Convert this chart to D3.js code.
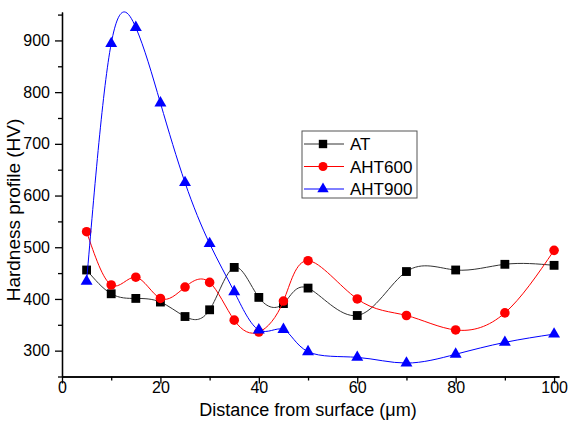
<!DOCTYPE html>
<html>
<head>
<meta charset="utf-8">
<script src="https://cdn.jsdelivr.net/npm/d3@7"></script>
<style>
  body { margin: 0; background: #fff; }
  svg { font-family: "Liberation Sans", Arial, sans-serif; }
  .axis path, .axis line { stroke: #000; stroke-width: 1.3px; }
  .axis text { font-size: 16px; fill: #000; }
</style>
</head>
<body>
<svg id="chart" width="568" height="422"></svg>
<script>
var distance = [5, 10, 15, 20, 25, 30, 35, 40, 45, 50, 60, 70, 80, 90, 100];
var atValues = [456, 410, 401, 394, 366, 379, 461, 403, 391, 421, 368, 453, 456, 467, 465];
var aht600Values = [530, 427, 442, 401, 423, 432, 359, 336, 396, 474, 400, 368, 340, 373, 494];
var aht900Values = [434, 894, 925, 779, 625, 507, 414, 340, 341, 298, 287, 276, 293, 316, 332];
var seriesNames = ["AT", "AHT600", "AHT900"];
var xTicks = [0, 20, 40, 60, 80, 100];
var yTicks = [300, 400, 500, 600, 700, 800, 900];

var svg = d3.select("#chart");

var x = d3.scaleLinear().domain([0, 101]).range([62, 559]),
    y = d3.scaleLinear().domain([250, 955]).range([376.5, 12]);

var series = [
  {name: seriesNames[0], values: atValues, color: "#000", line: "#333", symbol: d3.symbolSquare, size: 78},
  {name: seriesNames[1], values: aht600Values, color: "#f00", line: "#f00", symbol: d3.symbolCircle, size: 72},
  {name: seriesNames[2], values: aht900Values, color: "#00f", line: "#00f", symbol: d3.symbolTriangle, size: 62}
];

var line = d3.line()
    .x(function(d) { return x(d[0]); })
    .y(function(d) { return y(d[1]); })
    .curve(d3.curveNatural);

// minor ticks first
svg.append("g")
    .attr("class", "axis")
    .attr("transform", "translate(0," + y(250) + ")")
    .call(d3.axisBottom(x).tickValues(d3.range(10, 100, 20)).tickSize(4).tickSizeOuter(0).tickFormat(""));

svg.append("g")
    .attr("class", "axis axis--x")
    .attr("transform", "translate(0," + y(250) + ")")
    .call(d3.axisBottom(x).tickValues(xTicks).tickSize(7).tickSizeOuter(0).tickPadding(-1.5));

svg.append("g")
    .attr("class", "axis")
    .attr("transform", "translate(" + x(0) + ",0)")
    .call(d3.axisLeft(y).tickValues(d3.range(250, 951, 100)).tickSize(4).tickSizeOuter(0).tickFormat(""));

svg.append("g")
    .attr("class", "axis axis--y")
    .attr("transform", "translate(" + x(0) + ",0)")
    .call(d3.axisLeft(y).tickValues(yTicks).tickSize(7).tickSizeOuter(0).tickPadding(5));

svg.append("text")
    .attr("x", 308)
    .attr("y", 416)
    .attr("text-anchor", "middle")
    .style("font-size", "18px")
    .text("Distance from surface (\u03bcm)");

svg.append("text")
    .attr("transform", "translate(20,210) rotate(-90)")
    .attr("text-anchor", "middle")
    .style("font-size", "19px")
    .text("Hardness profile (HV)");

series.forEach(function(s) {
  var pts = distance.map(function(d, i) { return [d, s.values[i]]; });
  var g = svg.append("g");
  g.append("path")
      .datum(pts)
      .attr("fill", "none")
      .attr("stroke", s.line)
      .attr("stroke-width", 1)
      .attr("d", line);
  g.selectAll("path.pt")
      .data(pts)
      .enter().append("path")
      .attr("class", "pt")
      .attr("transform", function(d) { return "translate(" + x(d[0]) + "," + y(d[1]) + ")"; })
      .attr("fill", s.color)
      .attr("d", d3.symbol().type(s.symbol).size(s.size));
});

// legend
var legend = svg.append("g").attr("transform", "translate(302,131)");
legend.append("rect")
    .attr("width", 115)
    .attr("height", 67)
    .attr("fill", "#fff")
    .attr("stroke", "#555")
    .attr("stroke-width", 1);

var item = legend.selectAll(".item")
    .data(series)
    .enter().append("g")
    .attr("class", "item")
    .attr("transform", function(d, i) { return "translate(0," + (13 + i * 22.5) + ")"; });

item.append("line")
    .attr("x1", 2).attr("x2", 42)
    .attr("stroke", function(d) { return d.line; })
    .attr("stroke-width", 1);

item.append("path")
    .attr("transform", "translate(21,0)")
    .attr("fill", function(d) { return d.color; })
    .attr("d", function(d) { return d3.symbol().type(d.symbol).size(d.size * 0.9)(); });

item.append("text")
    .attr("x", 48)
    .attr("dy", "0.36em")
    .style("font-size", "17px")
    .text(function(d) { return d.name; });
</script>
</body>
</html>
